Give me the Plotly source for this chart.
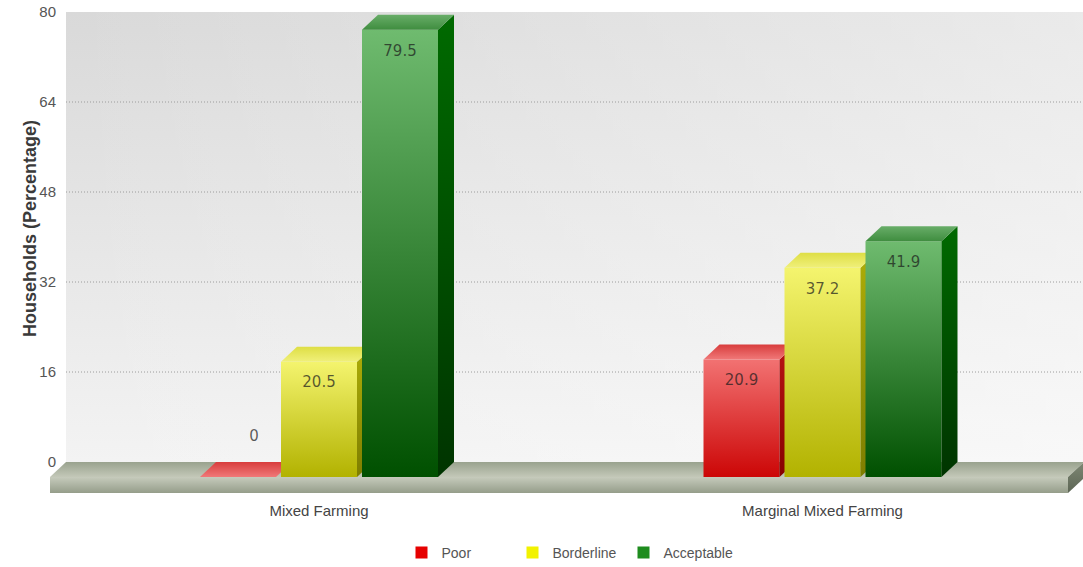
import plotly.graph_objects as go

# ---------------- data ----------------
categories = ["Mixed Farming", "Marginal Mixed Farming"]
series_names = ["Poor", "Borderline", "Acceptable"]
poor = [0, 20.9]
borderline = [20.5, 37.2]
acceptable = [79.5, 41.9]
y_ticks = [0, 16, 32, 48, 64, 80]
y_title = "Households (Percentage)"

series_values = [poor, borderline, acceptable]

# ---------------- canvas geometry ----------------
W, H = 1083, 567
CAT0_PX, CAT_STEP_PX = 319.0, 503.5      # pixel of first category centre, pixels between categories
BASE_PX, PX_PER_UNIT = 477.0, 5.625      # pixel of the front baseline, pixels per value unit
x_range = [(0 - CAT0_PX) / CAT_STEP_PX, (W - CAT0_PX) / CAT_STEP_PX]
y_range = [(BASE_PX - H) / PX_PER_UNIT, BASE_PX / PX_PER_UNIT]

# 3D extrusion and bar layout, in axis units
DX = 16 / CAT_STEP_PX
DY = 15 / PX_PER_UNIT
BAR_W = 76 / CAT_STEP_PX
BAR_PITCH = 81 / CAT_STEP_PX
FLOOR_L = (50 - CAT0_PX) / CAT_STEP_PX
FLOOR_R = (1068 - CAT0_PX) / CAT_STEP_PX
FLOOR_T = 16 / PX_PER_UNIT
LABEL_INSIDE_MIN = 8          # smaller bars get their value printed above
LABEL_IN_OFFSET = 22 / PX_PER_UNIT
LABEL_OUT_OFFSET = 25 / PX_PER_UNIT

# colour sets: (bottom/front colour, top/back colour)
styles = {
    "Poor": dict(front=("#cc0606", "#f27272"), side=("#860000", "#b81414"),
                 top=("#f07878", "#d83c3c"), key="#e60000"),
    "Borderline": dict(front=("#b2b200", "#f4f46e"), side=("#7e7e00", "#adad08"),
                       top=("#f0f07a", "#dede44"), key="#f2f200"),
    "Acceptable": dict(front=("#005000", "#6fbb6f"), side=("#003400", "#006a00"),
                       top=("#3f8d3f", "#68ad68"), key="#1e8c1e"),
}

fig = go.Figure()


def face(xs, ys, c0, c1, y0, y1, **kw):
    fig.add_trace(go.Scatter(
        x=xs, y=ys, mode="lines", fill="toself",
        line=dict(width=0, color=c1),
        fillgradient=dict(type="vertical", start=y0, stop=y1,
                          colorscale=[[0, c0], [1, c1]]),
        hoverinfo="skip", showlegend=False, **kw))


# back wall
wl, wr = FLOOR_L + DX, FLOOR_R + DX
y_top = y_ticks[-1] + DY
face([wl, wr, wr, wl, wl], [DY, DY, y_top, y_top, DY], "#f3f3f3", "#d9d9d9", DY, y_top)
fig.add_trace(go.Scatter(
    x=[wl, wr, wr, wl, wl], y=[DY, DY, y_top, y_top, DY], mode="lines",
    fill="toself", line=dict(width=0),
    fillgradient=dict(type="horizontal", start=wl, stop=wr,
                      colorscale=[[0, "rgba(255,255,255,0)"],
                                  [1, "rgba(255,255,255,0.45)"]]),
    hoverinfo="skip", showlegend=False))

# dotted grid lines on the back wall
gx, gy = [], []
for t in y_ticks[1:-1]:
    gx += [wl, wr, None]
    gy += [t + DY, t + DY, None]
fig.add_trace(go.Scatter(x=gx, y=gy, mode="lines",
                         line=dict(color="#9c9c9c", width=1, dash="1px,2px"),
                         hoverinfo="skip", showlegend=False))

# floor slab
face([FLOOR_L, FLOOR_R, FLOOR_R + DX, FLOOR_L + DX, FLOOR_L], [0, 0, DY, DY, 0],
     "#c3c8b8", "#99a28e", 0, DY)
face([FLOOR_L, FLOOR_R, FLOOR_R, FLOOR_L, FLOOR_L], [-FLOOR_T, -FLOOR_T, 0, 0, -FLOOR_T],
     "#959d8a", "#c6cbbc", -FLOOR_T, 0)
face([FLOOR_R, FLOOR_R + DX, FLOOR_R + DX, FLOOR_R, FLOOR_R],
     [-FLOOR_T, DY - FLOOR_T, DY, 0, -FLOOR_T],
     "#5d6655", "#7e8774", -FLOOR_T, DY)

# bars, drawn left to right so each front face hides the neighbour's side
lab_x, lab_y, lab_t = [], [], []
for j, cat in enumerate(categories):
    for i, name in enumerate(series_names):
        v = series_values[i][j]
        st = styles[name]
        xc = j + (i - 1) * BAR_PITCH
        xl, xr = xc - BAR_W / 2, xc + BAR_W / 2
        if v > 0:
            face([xl, xr, xr, xl, xl], [0, 0, v, v, 0], st["front"][0], st["front"][1],
                 0, v, legendgroup=name, name=name)
            face([xr, xr + DX, xr + DX, xr, xr], [0, DY, v + DY, v, 0],
                 st["side"][0], st["side"][1], 0, v + DY, legendgroup=name, name=name)
        face([xl, xr, xr + DX, xl + DX, xl], [v, v, v + DY, v + DY, v],
             st["top"][0], st["top"][1], v, v + DY, legendgroup=name, name=name)
        if v >= LABEL_INSIDE_MIN:
            lab_x.append(xc)
            lab_y.append(v - LABEL_IN_OFFSET)
        else:
            lab_x.append(xc + DX)
            lab_y.append(v + DY + LABEL_OUT_OFFSET)
        lab_t.append(f"{v:g}")

fig.add_trace(go.Scatter(
    x=lab_x, y=lab_y, text=lab_t, mode="text",
    textfont=dict(family="DejaVu Sans", size=15, color="rgba(28,28,28,0.72)"),
    hoverinfo="skip", showlegend=False))

# legend keys
for name in series_names:
    fig.add_trace(go.Bar(x=[None], y=[None], name=name, legendgroup=name,
                         marker=dict(color=styles[name]["key"], line=dict(width=0))))

fig.update_layout(
    width=W, height=H,
    margin=dict(l=0, r=0, t=0, b=0, autoexpand=False),
    paper_bgcolor="white", plot_bgcolor="rgba(0,0,0,0)",
    font=dict(family="Liberation Sans, Arial, sans-serif", color="#555555"),
    xaxis=dict(range=x_range, tickvals=list(range(len(categories))), ticktext=categories,
               anchor="free", position=(H - 500) / H, showgrid=False, zeroline=False,
               showline=False, ticks="", tickfont=dict(size=15, color="#444444"),
               fixedrange=True),
    # tick labels sit on the back wall, one depth step above the front baseline
    yaxis=dict(range=y_range, anchor="free", position=56 / W, side="left",
               tickvals=[t + DY for t in y_ticks], ticktext=[f"{t:g}" for t in y_ticks],
               showgrid=False, zeroline=False, showline=False, ticks="",
               tickfont=dict(size=15, color="#555555"), fixedrange=True),
    legend=dict(orientation="h", x=568 / W, xanchor="center", y=1 - 553 / H,
                yanchor="middle", font=dict(size=14, color="#555555"),
                bgcolor="rgba(0,0,0,0)", itemwidth=30,
                entrywidth=66, entrywidthmode="pixels"),
    annotations=[dict(text=f"<b>{y_title}</b>", x=18 / W, y=1 - 229 / H,
                      xref="paper", yref="paper", textangle=-90, showarrow=False,
                      font=dict(size=18, color="#3a3a3a"))],
)

fig.write_html("out.html")
